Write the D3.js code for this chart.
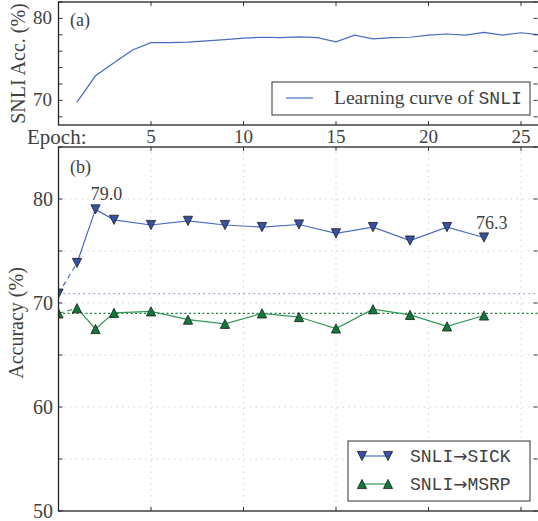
<!DOCTYPE html>
<html lang="en">

<head>
    <meta charset="UTF-8">
    <title>SNLI transfer curves</title>
    <script src="https://d3js.org/d3.v7.min.js"></script>
    <style>
        body { margin: 0; background: #fff; }
        text { font-family: "Liberation Serif", "DejaVu Serif", serif; fill: #3f3f3f; }
        .mono { font-family: "Liberation Mono", "DejaVu Sans Mono", monospace; }
        .arrow { font-family: "DejaVu Sans", sans-serif; }
    </style>
</head>

<body>
    <svg width="538" height="521" id="chart"></svg>

    <script>
        // ---- data ----
        const curveEpochs = d3.range(1, 27);
        const curveAcc = [69.8, 73.0, 74.6, 76.15, 77.05, 77.05, 77.1, 77.25, 77.4, 77.6,
            77.7, 77.65, 77.75, 77.65, 77.15, 77.95, 77.5, 77.65, 77.7, 77.95,
            78.1, 77.95, 78.3, 77.95, 78.25, 78.0];

        const transferEpochs = [1, 2, 3, 5, 7, 9, 11, 13, 15, 17, 19, 21, 23];
        const sickAcc = [73.85, 79.0, 78.0, 77.5, 77.9, 77.5, 77.3, 77.55, 76.7, 77.3, 76.0, 77.3, 76.3];
        const msrpAcc = [69.5, 67.5, 69.05, 69.2, 68.4, 68.0, 69.0, 68.65, 67.55, 69.4, 68.85, 67.75, 68.8];

        // baselines (no transfer) at epoch 0
        const sickBase = 70.9;
        const msrpBase = 69.0;

        const xTicks = [5, 10, 15, 20, 25];
        const topYTicks = [68, 70, 72, 74, 76, 78, 80, 82];
        const topYLabels = [70, 80];
        const botYTicks = [50, 55, 60, 65, 70, 75, 80, 85];
        const botYLabels = [50, 60, 70, 80];

        const blue = "#4a6bc2", blueFill = "#3552a6";
        const green = "#2f9a58", greenFill = "#0f7a38";

        const svg = d3.select("#chart");

        const x = d3.scaleLinear().domain([0, 26]).range([58.5, 539.5]);
        const yTop = d3.scaleLinear().domain([67, 82]).range([125, 2]);
        const yBot = d3.scaleLinear().domain([50, 85]).range([511, 147]);

        const TICK = 4;

        function clip(id, y0, y1) {
            svg.append("clipPath").attr("id", id)
                .append("rect")
                .attr("x", x.range()[0]).attr("y", y0)
                .attr("width", x.range()[1] - x.range()[0]).attr("height", y1 - y0);
        }
        clip("clipTop", yTop.range()[1], yTop.range()[0]);
        clip("clipBot", yBot.range()[1], yBot.range()[0]);

        // inward ticks on all four sides of a panel
        function frameTicks(y, yTicks) {
            const g = svg.append("g").attr("stroke", "#333").attr("stroke-width", 1);
            const [x0, x1] = x.range();
            const [yb, yt] = y.range();
            g.selectAll(".tl").data(yTicks).enter().append("line")
                .attr("x1", x0).attr("x2", x0 + TICK).attr("y1", d => y(d)).attr("y2", d => y(d));
            g.selectAll(".tr").data(yTicks).enter().append("line")
                .attr("x1", x1 - TICK - 2).attr("x2", x1 - 2).attr("y1", d => y(d)).attr("y2", d => y(d));
            g.selectAll(".tb").data(xTicks).enter().append("line")
                .attr("x1", d => x(d)).attr("x2", d => x(d)).attr("y1", yb).attr("y2", yb - TICK);
            g.selectAll(".tt").data(xTicks).enter().append("line")
                .attr("x1", d => x(d)).attr("x2", d => x(d)).attr("y1", yt).attr("y2", yt + TICK);
            svg.append("rect")
                .attr("x", x0).attr("y", yt).attr("width", x1 - x0).attr("height", yb - yt)
                .attr("fill", "none").attr("stroke", "#222").attr("stroke-width", 1.3);
        }

        function triangle(r, down) {
            return down ? `M${-r},${-r}L${r},${-r}L0,${r}Z` : `M0,${-r}L${r},${r}L${-r},${r}Z`;
        }

        // ================= panel (a) =================
        const line = d3.line().x(d => x(d[0])).y(d => yTop(d[1]));
        svg.append("path")
            .datum(curveEpochs.map((e, i) => [e, curveAcc[i]]))
            .attr("clip-path", "url(#clipTop)")
            .attr("fill", "none").attr("stroke", blue).attr("stroke-width", 1.2)
            .attr("d", line);

        frameTicks(yTop, topYTicks);

        svg.selectAll(".ylabA").data(topYLabels).enter().append("text")
            .attr("x", 52).attr("y", d => yTop(d) + 6)
            .attr("text-anchor", "end").attr("font-size", 19)
            .text(d => d);

        svg.selectAll(".xlab").data(xTicks).enter().append("text")
            .attr("x", d => x(d)).attr("y", 143)
            .attr("text-anchor", "middle").attr("font-size", 19)
            .text(d => d);

        svg.append("text").attr("x", 27).attr("y", 144).attr("font-size", 21).text("Epoch:");
        svg.append("text").attr("x", 70).attr("y", 26).attr("font-size", 18).text("(a)");

        svg.append("text")
            .attr("transform", `translate(25,${(yTop.range()[0] + yTop.range()[1]) / 2}) rotate(-90)`)
            .attr("text-anchor", "middle").attr("font-size", 20)
            .text("SNLI Acc. (%)");

        // legend (a)
        const legA = svg.append("g");
        legA.append("rect").attr("x", 272).attr("y", 82).attr("width", 258).attr("height", 33)
            .attr("fill", "#fff").attr("stroke", "#333").attr("stroke-width", 1);
        legA.append("line").attr("x1", 286).attr("x2", 313).attr("y1", 98).attr("y2", 98)
            .attr("stroke", blue).attr("stroke-width", 1.2);
        const ta = legA.append("text").attr("x", 334).attr("y", 104).attr("font-size", 19.5);
        ta.append("tspan").text("Learning curve of ");
        ta.append("tspan").attr("class", "mono").attr("font-size", 18).text("SNLI");

        // ================= panel (b) =================
        const grid = svg.append("g").attr("stroke", "#c8c8c8").attr("stroke-width", 1)
            .attr("stroke-dasharray", "1.2,4.6");
        grid.selectAll(".gh").data(botYTicks.filter(d => d > 50 && d < 85)).enter().append("line")
            .attr("x1", x.range()[0]).attr("x2", x.range()[1])
            .attr("y1", d => yBot(d)).attr("y2", d => yBot(d));
        grid.selectAll(".gv").data(xTicks).enter().append("line")
            .attr("x1", d => x(d)).attr("x2", d => x(d))
            .attr("y1", yBot.range()[1]).attr("y2", yBot.range()[0]);

        const plotB = svg.append("g").attr("clip-path", "url(#clipBot)");

        // baseline reference lines
        plotB.append("line")
            .attr("x1", x.range()[0]).attr("x2", x.range()[1])
            .attr("y1", yBot(sickBase)).attr("y2", yBot(sickBase))
            .attr("stroke", "#8d9bd8").attr("stroke-width", 1.2).attr("stroke-dasharray", "1.5,3.5");
        plotB.append("line")
            .attr("x1", x.range()[0]).attr("x2", x.range()[1])
            .attr("y1", yBot(msrpBase)).attr("y2", yBot(msrpBase))
            .attr("stroke", "#1d7d40").attr("stroke-width", 1.2).attr("stroke-dasharray", "2,2.5");

        const lineB = d3.line().x(d => x(d[0])).y(d => yBot(d[1]));

        function series(values, base, col, fill, down) {
            const pts = transferEpochs.map((e, i) => [e, values[i]]);
            // dashed link from the epoch-0 baseline
            plotB.append("path").datum([[0, base], pts[0]])
                .attr("fill", "none").attr("stroke", col).attr("stroke-width", 1.2)
                .attr("stroke-dasharray", "5,4").attr("d", lineB);
            plotB.append("path").datum(pts)
                .attr("fill", "none").attr("stroke", col).attr("stroke-width", 1.2).attr("d", lineB);
            plotB.selectAll(null).data([[0, base]].concat(pts)).enter().append("path")
                .attr("transform", d => `translate(${x(d[0])},${yBot(d[1])})`)
                .attr("d", triangle(4.6, down))
                .attr("fill", fill).attr("stroke", "#1a1a1a").attr("stroke-width", 0.8);
        }
        series(sickAcc, sickBase, blue, blueFill, true);
        series(msrpAcc, msrpBase, green, greenFill, false);

        frameTicks(yBot, botYTicks);

        svg.selectAll(".ylabB").data(botYLabels).enter().append("text")
            .attr("x", 53).attr("y", d => yBot(d) + 7)
            .attr("text-anchor", "end").attr("font-size", 20)
            .text(d => d);

        svg.append("text").attr("x", 70).attr("y", 173).attr("font-size", 18).text("(b)");

        svg.append("text")
            .attr("transform", `translate(23,${(yBot.range()[0] + yBot.range()[1]) / 2 - 6}) rotate(-90)`)
            .attr("text-anchor", "middle").attr("font-size", 20)
            .text("Accuracy (%)");

        // annotate max and last SICK values
        const iMax = sickAcc.indexOf(d3.max(sickAcc));
        const iLast = sickAcc.length - 1;
        svg.append("text")
            .attr("x", x(transferEpochs[iMax]) + 11).attr("y", yBot(sickAcc[iMax]) - 9)
            .attr("text-anchor", "middle").attr("font-size", 18)
            .text(sickAcc[iMax].toFixed(1));
        svg.append("text")
            .attr("x", x(transferEpochs[iLast]) - 8).attr("y", yBot(sickAcc[iLast]) - 8)
            .attr("font-size", 18)
            .text(sickAcc[iLast].toFixed(1));

        // legend (b)
        const legB = svg.append("g");
        legB.append("rect").attr("x", 348).attr("y", 441).attr("width", 182).attr("height", 60)
            .attr("fill", "#fff").attr("stroke", "#333").attr("stroke-width", 1);
        const legItems = [
            { a: "SNLI", b: "SICK", col: blue, fill: blueFill, down: true, y: 456 },
            { a: "SNLI", b: "MSRP", col: green, fill: greenFill, down: false, y: 484 }
        ];
        legItems.forEach(it => {
            legB.append("line").attr("x1", 362).attr("x2", 388).attr("y1", it.y).attr("y2", it.y)
                .attr("stroke", it.col).attr("stroke-width", 1.2);
            [362, 388].forEach(mx => {
                legB.append("path").attr("transform", `translate(${mx},${it.y})`)
                    .attr("d", triangle(4.6, it.down))
                    .attr("fill", it.fill).attr("stroke", "#1a1a1a").attr("stroke-width", 0.8);
            });
            const t = legB.append("text").attr("x", 410).attr("y", it.y + 6).attr("font-size", 18);
            t.append("tspan").attr("class", "mono").text(it.a);
            t.append("tspan").attr("class", "arrow").attr("font-size", 17).text("\u2192");
            t.append("tspan").attr("class", "mono").text(it.b);
        });
    </script>

</body>

</html>
